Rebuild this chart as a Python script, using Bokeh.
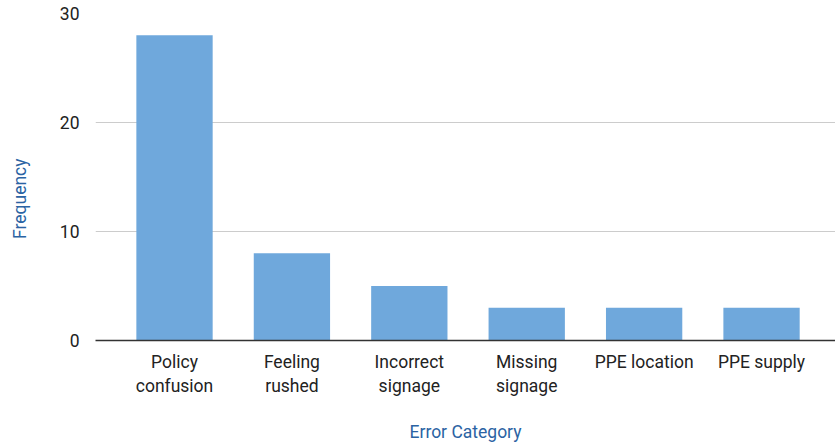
from bokeh.plotting import figure
from bokeh.models import ColumnDataSource, Range1d, FixedTicker
from bokeh.embed import file_html
from bokeh.resources import INLINE

categories = ["Policy\nconfusion", "Feeling\nrushed", "Incorrect\nsignage",
              "Missing\nsignage", "PPE location", "PPE supply"]
frequency = [28, 8, 5, 3, 3, 3]
y_ticks = [0, 10, 20, 30]

idx = list(range(len(categories)))
source = ColumnDataSource(data=dict(x=idx, top=frequency))

FONT = "Roboto"
FS = "17.5px"
TITLE_COLOR = "#2b63a3"

p = figure(width=835, height=444, output_backend="svg", toolbar_location=None,
           x_range=Range1d(-0.673, 5.63), y_range=Range1d(0, 30),
           min_border_left=95, min_border_top=13, min_border_right=0,
           min_border_bottom=104)
p.outline_line_color = None
p.background_fill_color = "white"

p.vbar(x="x", top="top", width=0.65, source=source, color="#6fa8dc", line_color=None)

p.xaxis.ticker = FixedTicker(ticks=idx)
p.xaxis.major_label_overrides = {i: c for i, c in zip(idx, categories)}
p.xgrid.grid_line_color = None
p.xaxis.major_tick_line_color = None
p.xaxis.minor_tick_line_color = None
p.xaxis.axis_line_color = "#333333"
p.xaxis.axis_line_width = 1.5
p.xaxis.major_label_text_font = FONT
p.xaxis.major_label_text_font_size = FS
p.xaxis.major_label_text_color = "#222222"
p.xaxis.major_label_standoff = 5
p.xaxis.axis_label = "Error Category"
p.xaxis.axis_label_text_font = FONT
p.xaxis.axis_label_text_font_style = "normal"
p.xaxis.axis_label_text_font_size = FS
p.xaxis.axis_label_text_color = TITLE_COLOR
p.xaxis.axis_label_standoff = 23

p.yaxis.ticker = FixedTicker(ticks=y_ticks)
p.yaxis.axis_line_color = None
p.yaxis.major_tick_line_color = None
p.yaxis.minor_tick_line_color = None
p.yaxis.major_label_text_font = FONT
p.yaxis.major_label_text_font_size = FS
p.yaxis.major_label_text_color = "#222222"
p.yaxis.major_label_standoff = 10
p.yaxis.axis_label = "Frequency" + "\u00a0" * 10
p.yaxis.axis_label_text_font = FONT
p.yaxis.axis_label_text_font_style = "normal"
p.yaxis.axis_label_text_font_size = FS
p.yaxis.axis_label_text_color = TITLE_COLOR
p.yaxis.axis_label_standoff = 27
p.ygrid.grid_line_color = "#cccccc"
p.ygrid.grid_line_width = 1

open("out.html", "w").write(file_html(p, INLINE))
